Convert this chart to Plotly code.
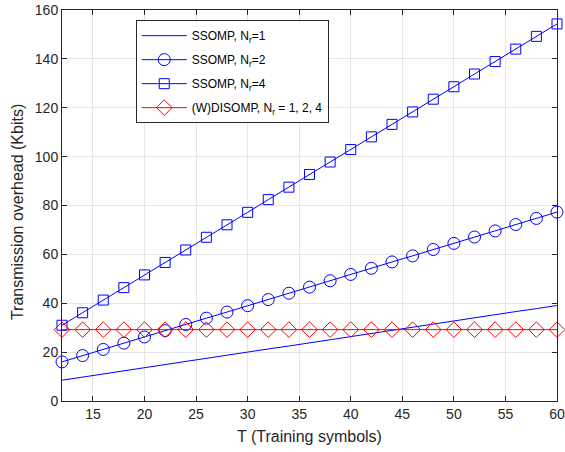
import plotly.graph_objects as go

T = [12, 14, 16, 18, 20, 22, 24, 26, 28, 30, 32, 34, 36, 38, 40, 42, 44, 46, 48, 50, 52, 54, 56, 58, 60]
ssomp_nr1 = [8.5, 9.8, 11.1, 12.3, 13.6, 14.9, 16.2, 17.4, 18.7, 20.0, 21.3, 22.5, 23.8, 25.1, 26.4, 27.6,
             28.9, 30.2, 31.5, 32.7, 34.0, 35.3, 36.6, 37.8, 39.1]
ssomp_nr2 = [16.0, 18.6, 21.1, 23.7, 26.2, 28.8, 31.3, 33.9, 36.4, 39.0, 41.5, 44.1, 46.6, 49.2, 51.8, 54.3,
             56.9, 59.4, 62.0, 64.5, 67.1, 69.6, 72.2, 74.7, 77.3]
ssomp_nr4 = [31.0, 36.1, 41.3, 46.4, 51.6, 56.7, 61.8, 67.0, 72.1, 77.2, 82.4, 87.5, 92.7, 97.8, 102.9, 108.1,
             113.2, 118.3, 123.5, 128.6, 133.8, 138.9, 144.0, 149.2, 154.3]
disomp = [29.2] * len(T)

names = ["SSOMP, N<sub>r</sub>=1", "SSOMP, N<sub>r</sub>=2", "SSOMP, N<sub>r</sub>=4",
         "(W)DISOMP, N<sub>r</sub> = 1, 2, 4"]
x_ticks = [15, 20, 25, 30, 35, 40, 45, 50, 55, 60]
y_ticks = [0, 20, 40, 60, 80, 100, 120, 140, 160]
x_title = "T (Training symbols)"
y_title = "Transmission overhead (Kbits)"

blue = "#0000ff"
red = "#ff0000"
FONT = "Liberation Sans, Arial, sans-serif"

fig = go.Figure()
fig.add_trace(go.Scatter(x=T, y=ssomp_nr1, mode="lines", name=names[0], legendgroup="a",
                         line=dict(color=blue, width=1)))
fig.add_trace(go.Scatter(x=T, y=ssomp_nr2, mode="lines+markers", name=names[1], legendgroup="b",
                         line=dict(color=blue, width=1), cliponaxis=False,
                         marker=dict(symbol="circle-open", size=12, color=blue, line=dict(width=1))))
fig.add_trace(go.Scatter(x=T, y=ssomp_nr4, mode="lines+markers", name=names[2], legendgroup="c",
                         line=dict(color=blue, width=1), cliponaxis=False,
                         marker=dict(symbol="square-open", size=10, color=blue, line=dict(width=1))))
fig.add_trace(go.Scatter(x=T, y=disomp, mode="lines+markers", name=names[3], legendgroup="d",
                         line=dict(color=red, width=1), cliponaxis=False,
                         marker=dict(symbol="diamond-open", size=12, color=red, line=dict(width=1))))

axis_common = dict(showline=True, linecolor="#262626", linewidth=1, mirror="ticks",
                   ticks="inside", ticklen=5, tickcolor="#262626",
                   showgrid=True, gridcolor="#e6e6e6", gridwidth=1, zeroline=False,
                   automargin=False,
                   tickfont=dict(family=FONT, size=14, color="#262626"))

fig.update_layout(
    width=565, height=452,
    margin=dict(l=62, r=8, t=10, b=51),
    paper_bgcolor="white", plot_bgcolor="white",
    font=dict(family=FONT, size=14, color="#262626"),
    xaxis=dict(range=[12, 60], tickvals=x_ticks, **axis_common),
    yaxis=dict(range=[0, 160], tickvals=y_ticks, **axis_common),
    legend=dict(x=0.149, y=0.974, xanchor="left", yanchor="top",
                bgcolor="white", bordercolor="#262626", borderwidth=1,
                font=dict(family=FONT, size=12, color="black"), tracegroupgap=5,
                itemwidth=45),
    showlegend=True,
    annotations=[
        dict(text=x_title, xref="paper", yref="paper", x=0.5, y=-0.092,
             xanchor="center", yanchor="middle", showarrow=False,
             font=dict(family=FONT, size=16, color="#262626")),
        dict(text=y_title, xref="paper", yref="paper", x=-0.091, y=0.483,
             xanchor="center", yanchor="middle", showarrow=False, textangle=-90,
             font=dict(family=FONT, size=16, color="#262626")),
    ],
)

fig.write_html("out.html", config={"displayModeBar": False},
               post_script="document.body.style.margin='0';")
